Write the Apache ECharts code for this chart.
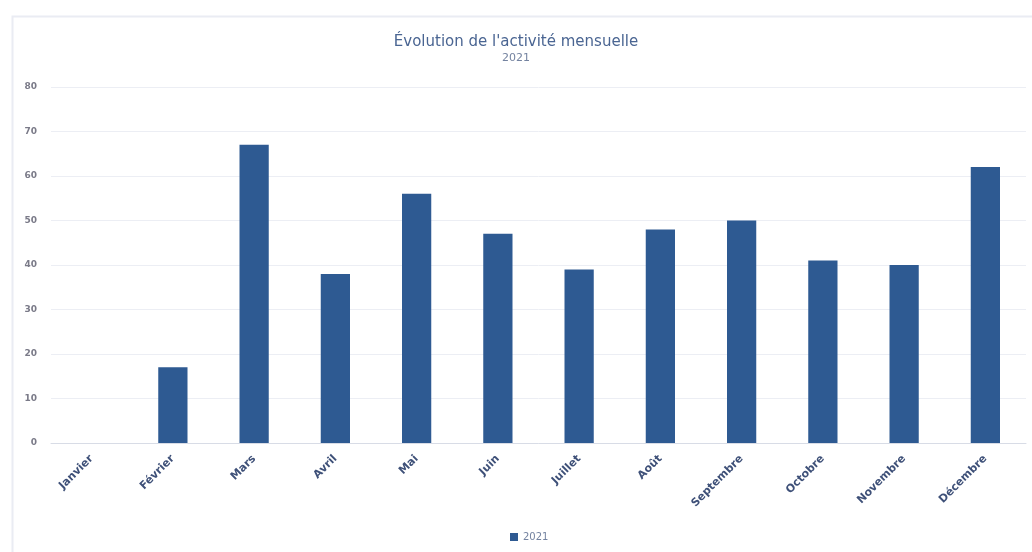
<!DOCTYPE html>
<html>
<head>
<meta charset="utf-8">
<script src="https://cdn.jsdelivr.net/npm/echarts@6/dist/echarts.min.js"></script>
<style>html,body{margin:0;padding:0;background:#fff}#c{width:1032px;height:552px}</style>
</head>
<body>
<div id="c"></div>
<script>
const categories = ['Janvier','Février','Mars','Avril','Mai','Juin','Juillet','Août','Septembre','Octobre','Novembre','Décembre'];
const values2021 = [0,17,67,38,56,47,39,48,50,41,40,62];
const seriesName = '2021';
const titleText = "Évolution de l'activité mensuelle";
const subtitleText = '2021';

const chart = echarts.init(document.getElementById('c'));
chart.setOption({
  backgroundColor: '#fff',
  animation: false,
  graphic: [{
    type: 'rect', left: 10, top: 14,
    shape: { width: 1040, height: 560 },
    style: { fill: 'none', stroke: '#eaecf3', lineWidth: 2 }
  }],
  title: {
    text: titleText, subtext: subtitleText, left: 'center', top: 30, itemGap: 3,
    textStyle: { fontFamily: 'DejaVu Sans', fontSize: 15, fontWeight: 'normal', color: '#4a6592' },
    subtextStyle: { fontFamily: 'DejaVu Sans', fontSize: 11, color: '#7483a0' }
  },
  legend: {
    bottom: 5, left: 505, itemWidth: 8, itemHeight: 8, icon: 'rect', itemGap: 4,
    textStyle: { fontFamily: 'DejaVu Sans', fontSize: 10, color: '#7483a0' },
    data: [seriesName]
  },
  grid: { left: 51, right: 6, top: 87, bottom: 109 },
  xAxis: {
    type: 'category', data: categories,
    axisLine: { lineStyle: { color: '#d8dce6', width: 1 } },
    axisTick: { show: false },
    axisLabel: { rotate: 45, interval: 0, fontFamily: 'DejaVu Sans', fontSize: 11, fontWeight: 'bold', color: '#3e5078', margin: 14 }
  },
  yAxis: {
    type: 'value', min: 0, max: 80, interval: 10,
    axisLine: { show: false }, axisTick: { show: false },
    splitLine: { lineStyle: { color: '#eceef4' } },
    axisLabel: { fontFamily: 'DejaVu Sans', fontSize: 9, fontWeight: 'bold', color: '#7a7a88', margin: 14 }
  },
  series: [{
    name: seriesName, type: 'bar', data: values2021, barWidth: '36%',
    itemStyle: { color: '#2e5a92' }
  }]
});
</script>
</body>
</html>
